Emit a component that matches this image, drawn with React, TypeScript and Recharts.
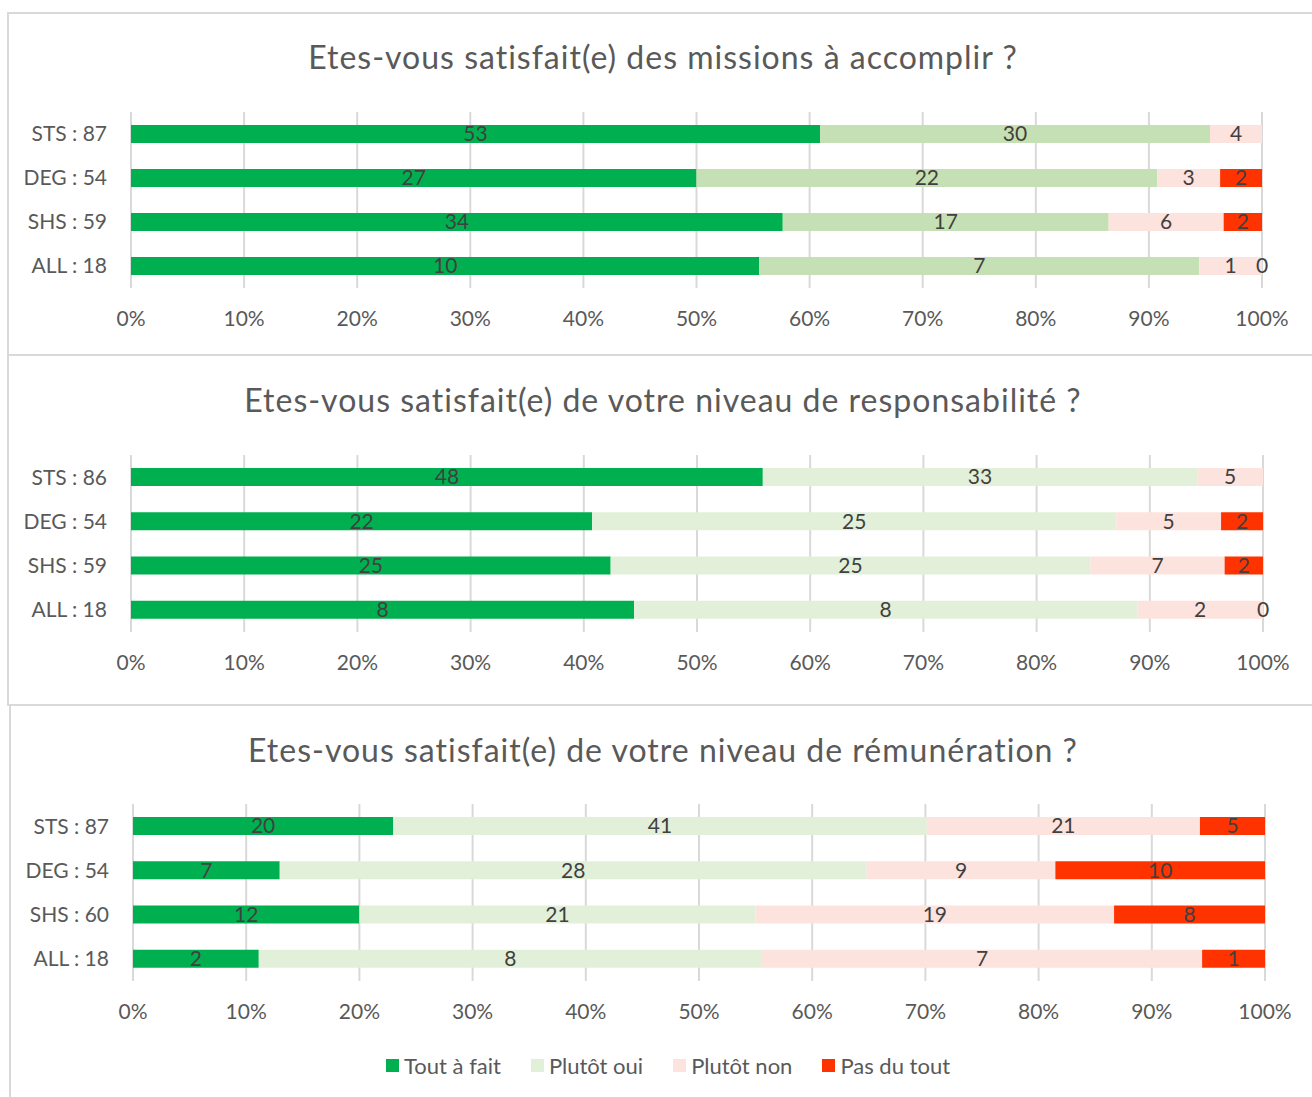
import { BarChart, Bar, XAxis, YAxis, CartesianGrid, LabelList } from "recharts";

const FONT = "Lato, 'Open Sans', sans-serif";

const seriesNames = ["Tout à fait", "Plutôt oui", "Plutôt non", "Pas du tout"];
const pctTicks = [0, 0.1, 0.2, 0.3, 0.4, 0.5, 0.6, 0.7, 0.8, 0.9, 1];

// Chart 1 : missions
const categories1 = ["STS : 87", "DEG : 54", "SHS : 59", "ALL : 18"];
const toutAFait1 = [53, 27, 34, 10];
const plutotOui1 = [30, 22, 17, 7];
const plutotNon1 = [4, 3, 6, 1];
const pasDuTout1 = [null, 2, 2, 0];

// Chart 2 : responsabilité
const categories2 = ["STS : 86", "DEG : 54", "SHS : 59", "ALL : 18"];
const toutAFait2 = [48, 22, 25, 8];
const plutotOui2 = [33, 25, 25, 8];
const plutotNon2 = [5, 5, 7, 2];
const pasDuTout2 = [null, 2, 2, 0];

// Chart 3 : rémunération
const categories3 = ["STS : 87", "DEG : 54", "SHS : 60", "ALL : 18"];
const toutAFait3 = [20, 7, 12, 2];
const plutotOui3 = [41, 28, 21, 8];
const plutotNon3 = [21, 9, 19, 7];
const pasDuTout3 = [5, 10, 8, 1];

const GREEN = "#00B050";
const OUI_DARK = "#C5E0B4";
const OUI_LIGHT = "#E2F0D9";
const NON = "#FDE3DD";
const RED = "#FF3300";

function buildRows(cats, a, b, c, d) {
  return cats.map((label, i) => ({
    label,
    toutAFait: a[i],
    plutotOui: b[i],
    plutotNon: c[i],
    pasDuTout: d[i],
  }));
}

// a zero-width bar gets no label in recharts, so give it a hair of width
const barValue = (key) => (row) => (row[key] === 0 ? 1e-6 : row[key]);

type ChartProps = {
  title: string;
  rows: any[];
  ouiColor: string;
  titleY: number;
  plotTop: number;
  plotH: number;
  plotLeft: number;
  plotRight: number;
};

function StackChart({ title, rows, ouiColor, titleY, plotTop, plotH, plotLeft, plotRight }: ChartProps) {
  const axisH = 50;
  const yAxisW = 120;
  const labelStyle = { fill: "#404040", fontSize: 21, fontFamily: FONT };
  const tickStyle = { fill: "#595959", fontSize: 21, fontFamily: FONT };
  const keys = [
    { key: "toutAFait", color: GREEN },
    { key: "plutotOui", color: ouiColor },
    { key: "plutotNon", color: NON },
    { key: "pasDuTout", color: RED },
  ];
  return (
    <>
      <div
        style={{
          position: "absolute",
          left: 0,
          width: 1326,
          top: titleY - 19,
          height: 38,
          lineHeight: "38px",
          textAlign: "center",
          fontFamily: FONT,
          fontSize: 32,
          letterSpacing: 1,
          color: "#595959",
          whiteSpace: "nowrap",
        }}
      >
        {title}
      </div>
      <div style={{ position: "absolute", left: 0, top: plotTop, width: 1312, height: plotH + axisH }}>
        <BarChart
          width={1312}
          height={plotH + axisH}
          data={rows}
          layout="vertical"
          stackOffset="expand"
          barSize={18}
          margin={{ top: 0, right: 1312 - plotRight, bottom: 0, left: plotLeft - yAxisW }}
        >
          <CartesianGrid horizontal={false} stroke="#D9D9D9" strokeWidth={2} />
          <XAxis
            type="number"
            domain={[0, 1]}
            ticks={pctTicks}
            interval={0}
            tickFormatter={(v) => `${Math.round(v * 100)}%`}
            axisLine={false}
            tickLine={false}
            tickSize={0}
            tickMargin={23}
            height={axisH}
            tick={tickStyle}
          />
          <YAxis
            type="category"
            dataKey="label"
            width={yAxisW}
            axisLine={false}
            tickLine={false}
            tickSize={0}
            tickMargin={24}
            tick={tickStyle}
          />
          {keys.map((k) => (
            <Bar key={k.key} dataKey={barValue(k.key)} stackId="s" fill={k.color} isAnimationActive={false}>
              <LabelList dataKey={k.key} position="center" {...labelStyle} />
            </Bar>
          ))}
        </BarChart>
      </div>
    </>
  );
}

function Legend() {
  const colors = [GREEN, OUI_LIGHT, NON, RED];
  return (
    <div
      style={{
        position: "absolute",
        left: 386,
        top: 1051,
        height: 28,
        display: "flex",
        alignItems: "center",
        gap: 30,
        fontFamily: FONT,
        fontSize: 22,
        color: "#595959",
        whiteSpace: "nowrap",
      }}
    >
      {seriesNames.map((name, i) => (
        <div key={name} style={{ display: "flex", alignItems: "center", gap: 5 }}>
          <div style={{ width: 13, height: 13, background: colors[i] }} />
          <span>{name}</span>
        </div>
      ))}
    </div>
  );
}

export default function App() {
  const panel = { position: "absolute" as const, border: "2px solid #D9D9D9", boxSizing: "border-box" as const };
  return (
    <div
      style={{
        position: "absolute",
        left: 0,
        top: 0,
        width: 1312,
        height: 1097,
        overflow: "hidden",
        background: "#fff",
      }}
    >
      <div style={{ ...panel, left: 7, top: 12, width: 1330, height: 344 }} />
      <div style={{ ...panel, left: 7, top: 354, width: 1330, height: 352 }} />
      <div style={{ ...panel, left: 9, top: 704, width: 1330, height: 420 }} />

      <StackChart
        title="Etes-vous satisfait(e) des missions à accomplir ?"
        rows={buildRows(categories1, toutAFait1, plutotOui1, plutotNon1, pasDuTout1)}
        ouiColor={OUI_DARK}
        titleY={57}
        plotTop={112}
        plotH={176}
        plotLeft={131}
        plotRight={1262}
      />
      <StackChart
        title="Etes-vous satisfait(e) de votre niveau de responsabilité ?"
        rows={buildRows(categories2, toutAFait2, plutotOui2, plutotNon2, pasDuTout2)}
        ouiColor={OUI_LIGHT}
        titleY={400}
        plotTop={455}
        plotH={177}
        plotLeft={131}
        plotRight={1263}
      />
      <StackChart
        title="Etes-vous satisfait(e) de votre niveau de rémunération ?"
        rows={buildRows(categories3, toutAFait3, plutotOui3, plutotNon3, pasDuTout3)}
        ouiColor={OUI_LIGHT}
        titleY={750}
        plotTop={804}
        plotH={177}
        plotLeft={133}
        plotRight={1265}
      />
      <Legend />
    </div>
  );
}
